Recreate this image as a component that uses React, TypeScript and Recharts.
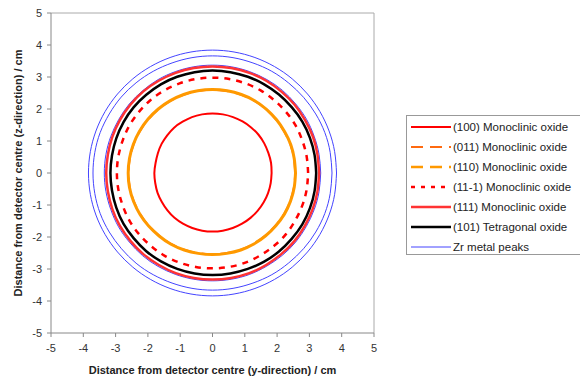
import React from "react";
import { LineChart, Line, XAxis, YAxis, ReferenceLine } from "recharts";

// angle (degrees, counter-clockwise from +y direction axis) of each sampled point
const angles = [0, 10, 20, 30, 40, 50, 60, 70, 80, 90, 100, 110, 120, 130, 140, 150, 160, 170, 180, 190, 200, 210, 220, 230, 240, 250, 260, 270, 280, 290, 300, 310, 320, 330, 340, 350];

// ring radii (cm) read at each angle
const r100 = [1.83, 1.84, 1.84, 1.85, 1.86, 1.86, 1.86, 1.86, 1.86, 1.86, 1.86, 1.86, 1.85, 1.85, 1.83, 1.82, 1.8, 1.79, 1.8, 1.8, 1.81, 1.81, 1.82, 1.83, 1.83, 1.83, 1.83, 1.83, 1.83, 1.83, 1.83, 1.83, 1.83, 1.83, 1.83, 1.83];
const r011 = [2.56, 2.56, 2.57, 2.57, 2.58, 2.59, 2.6, 2.6, 2.6, 2.6, 2.6, 2.6, 2.6, 2.6, 2.6, 2.6, 2.6, 2.6, 2.6, 2.6, 2.59, 2.58, 2.57, 2.56, 2.56, 2.55, 2.54, 2.54, 2.54, 2.55, 2.55, 2.55, 2.55, 2.56, 2.56, 2.56];
const r110 = [2.57, 2.57, 2.58, 2.58, 2.59, 2.6, 2.61, 2.61, 2.61, 2.61, 2.61, 2.61, 2.61, 2.61, 2.61, 2.61, 2.61, 2.61, 2.61, 2.61, 2.6, 2.59, 2.58, 2.57, 2.57, 2.56, 2.55, 2.55, 2.55, 2.56, 2.56, 2.56, 2.56, 2.57, 2.57, 2.57];
const r11m1 = [2.96, 2.96, 2.96, 2.97, 2.97, 2.97, 2.98, 2.98, 2.98, 2.98, 2.98, 2.98, 2.98, 2.98, 2.97, 2.97, 2.96, 2.96, 2.96, 2.96, 2.96, 2.97, 2.97, 2.97, 2.98, 2.98, 2.98, 2.98, 2.98, 2.98, 2.97, 2.97, 2.97, 2.96, 2.96, 2.96];
const r111 = [3.3, 3.3, 3.31, 3.31, 3.32, 3.32, 3.33, 3.33, 3.33, 3.33, 3.33, 3.33, 3.33, 3.33, 3.32, 3.31, 3.3, 3.29, 3.29, 3.29, 3.3, 3.31, 3.31, 3.32, 3.32, 3.33, 3.33, 3.33, 3.33, 3.33, 3.32, 3.31, 3.31, 3.3, 3.3, 3.3];
const r101 = [3.21, 3.21, 3.21, 3.21, 3.2, 3.2, 3.2, 3.2, 3.2, 3.2, 3.2, 3.2, 3.2, 3.19, 3.19, 3.18, 3.17, 3.16, 3.16, 3.16, 3.17, 3.18, 3.18, 3.19, 3.19, 3.19, 3.19, 3.19, 3.19, 3.19, 3.2, 3.2, 3.2, 3.21, 3.21, 3.21];
const rZr1 = [3.35, 3.35, 3.35, 3.36, 3.36, 3.37, 3.37, 3.37, 3.37, 3.37, 3.37, 3.37, 3.37, 3.36, 3.36, 3.35, 3.35, 3.35, 3.35, 3.35, 3.35, 3.36, 3.36, 3.37, 3.37, 3.37, 3.37, 3.37, 3.37, 3.37, 3.36, 3.36, 3.36, 3.35, 3.35, 3.35];
const rZr2 = [3.7, 3.7, 3.7, 3.69, 3.68, 3.67, 3.67, 3.66, 3.66, 3.66, 3.66, 3.66, 3.67, 3.68, 3.69, 3.69, 3.7, 3.7, 3.7, 3.7, 3.7, 3.69, 3.68, 3.68, 3.67, 3.66, 3.66, 3.66, 3.66, 3.66, 3.67, 3.67, 3.68, 3.69, 3.7, 3.7];
const rZr3 = [3.84, 3.84, 3.84, 3.84, 3.84, 3.84, 3.84, 3.84, 3.84, 3.84, 3.84, 3.84, 3.84, 3.84, 3.84, 3.84, 3.84, 3.84, 3.84, 3.84, 3.84, 3.84, 3.84, 3.84, 3.84, 3.84, 3.84, 3.84, 3.84, 3.84, 3.84, 3.84, 3.84, 3.84, 3.84, 3.84];

const axisTicks = [-5, -4, -3, -2, -1, 0, 1, 2, 3, 4, 5];

const toPoints = (radii: number[]) => {
  const pts = angles.map((a, i) => ({
    x: radii[i] * Math.cos((a * Math.PI) / 180),
    y: radii[i] * Math.sin((a * Math.PI) / 180),
  }));
  return [...pts, pts[0]];
};

const legendItems = [
  { name: "(100) Monoclinic oxide", color: "#ff0000", width: 2, dash: undefined },
  { name: "(011) Monoclinic oxide", color: "#ff6a10", width: 2, dash: "12 7" },
  { name: "(110) Monoclinic oxide", color: "#ff9900", width: 2.5, dash: "12 7" },
  { name: "(11-1) Monoclinic oxide", color: "#ff0000", width: 2.5, dash: "4 6" },
  { name: "(111) Monoclinic oxide", color: "#ff3333", width: 2.5, dash: undefined },
  { name: "(101) Tetragonal oxide", color: "#000000", width: 2.5, dash: undefined },
  { name: "Zr metal peaks", color: "#4444ff", width: 1, dash: undefined },
];

const font = "'Liberation Sans', Arial, sans-serif";

export default function App() {
  const tick = { fontSize: 11, fill: "#333", fontFamily: font };
  return (
    <div style={{ position: "absolute", left: 0, top: 0, width: 580, height: 376, background: "#fff", overflow: "hidden" }}>
      <LineChart width={580} height={376} margin={{ top: 13, right: 206, bottom: 0, left: 0 }}>
        <XAxis
          type="number"
          dataKey="x"
          domain={[-5, 5]}
          ticks={axisTicks}
          allowDataOverflow
          stroke="#888"
          tickSize={4}
          tickMargin={7}
          tick={tick}
          height={43}
          label={{
            value: "Distance from detector centre (y-direction) / cm",
            position: "insideBottom",
            offset: 2,
            style: { fontSize: 11, fontWeight: "bold", fill: "#222", fontFamily: font },
          }}
        />
        <YAxis
          type="number"
          dataKey="y"
          domain={[-5, 5]}
          ticks={axisTicks}
          allowDataOverflow
          stroke="#888"
          tickSize={4}
          tickMargin={5}
          tick={tick}
          width={51}
          label={{
            value: "Distance from detector centre (z-direction) / cm",
            angle: -90,
            position: "insideLeft",
            offset: 18,
            style: { fontSize: 11, fontWeight: "bold", fill: "#222", fontFamily: font, textAnchor: "middle" },
          }}
        />
        <ReferenceLine y={5} stroke="#aaa" />
        <ReferenceLine x={5} stroke="#aaa" />
        <Line data={toPoints(rZr3)} dataKey="y" type="natural" stroke="#4444ff" strokeWidth={1} dot={false} isAnimationActive={false} />
        <Line data={toPoints(rZr2)} dataKey="y" type="natural" stroke="#4444ff" strokeWidth={1} dot={false} isAnimationActive={false} />
        <Line data={toPoints(rZr1)} dataKey="y" type="natural" stroke="#4444ff" strokeWidth={1} dot={false} isAnimationActive={false} />
        <Line data={toPoints(r111)} dataKey="y" type="natural" stroke="#ff3333" strokeWidth={2.5} dot={false} isAnimationActive={false} />
        <Line data={toPoints(r101)} dataKey="y" type="natural" stroke="#000" strokeWidth={2.5} dot={false} isAnimationActive={false} />
        <Line data={toPoints(r11m1)} dataKey="y" type="natural" stroke="#ff0000" strokeWidth={2.5} strokeDasharray="6 6" dot={false} isAnimationActive={false} />
        <Line data={toPoints(r011)} dataKey="y" type="natural" stroke="#ff6a10" strokeWidth={2} strokeDasharray="12 7" dot={false} isAnimationActive={false} />
        <Line data={toPoints(r110)} dataKey="y" type="natural" stroke="#ff9900" strokeWidth={3} dot={false} isAnimationActive={false} />
        <Line data={toPoints(r100)} dataKey="y" type="natural" stroke="#ff0000" strokeWidth={2} dot={false} isAnimationActive={false} />
      </LineChart>
      <div
        style={{
          position: "absolute",
          left: 406,
          top: 115,
          width: 190,
          height: 140,
          border: "1px solid #999",
          boxSizing: "border-box",
          paddingTop: 1,
          fontFamily: font,
          fontSize: 11.5,
          color: "#222",
        }}
      >
        {legendItems.map((it) => (
          <div key={it.name} style={{ display: "flex", alignItems: "center", height: 20, whiteSpace: "nowrap" }}>
            <svg width={46} height={10} style={{ flex: "none" }}>
              <line x1={4} y1={5} x2={44} y2={5} stroke={it.color} strokeWidth={it.width} strokeDasharray={it.dash} />
            </svg>
            <span>{it.name}</span>
          </div>
        ))}
      </div>
    </div>
  );
}
